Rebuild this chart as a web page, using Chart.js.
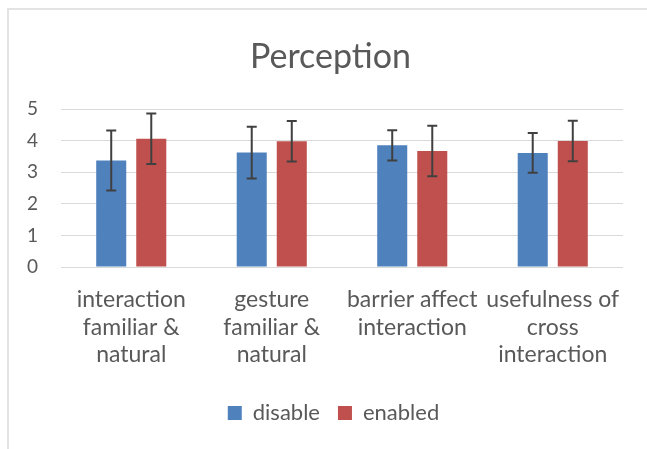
<!DOCTYPE html>
<html>
<head>
<meta charset="utf-8">
<script src="https://cdn.jsdelivr.net/npm/chart.js@4/dist/chart.umd.min.js"></script>
<style>
  html, body { margin: 0; padding: 0; background: #ffffff; }
  #wrap { position: relative; width: 647px; height: 449px; overflow: hidden; }
  #frame { position: absolute; left: 7px; top: 8px; width: 700px; height: 500px;
           border-left: 2px solid #e3e3e3; border-top: 2px solid #e3e3e3; }
  canvas { position: absolute; left: 0; top: 0; }
</style>
</head>
<body>
<div id="wrap">
  <div id="frame"></div>
  <canvas id="c" width="647" height="449"></canvas>
</div>
<script>
const categories = [
  ["interaction", "familiar &", "natural"],
  ["gesture", "familiar &", "natural"],
  ["barrier affect", "interaction"],
  ["usefulness of", "cross", "interaction"]
];
const disableValues = [3.37, 3.62, 3.85, 3.61];
const disableErrors = [0.95, 0.82, 0.48, 0.63];
const enabledValues = [4.06, 3.98, 3.67, 3.99];
const enabledErrors = [0.80, 0.64, 0.80, 0.64];
const yTicks = [0, 1, 2, 3, 4, 5];

const FONT = "Lato, 'Open Sans', sans-serif";
const TEXT = "#595959";

const errorBarPlugin = {
  id: 'errorBars',
  afterDatasetsDraw(chart) {
    const ctx = chart.ctx;
    const y = chart.scales.y;
    ctx.save();
    ctx.strokeStyle = '#404040';
    ctx.lineWidth = 2;
    chart.data.datasets.forEach((ds, di) => {
      const meta = chart.getDatasetMeta(di);
      meta.data.forEach((bar, i) => {
        const v = ds.data[i], e = ds.errors[i];
        const yTop = y.getPixelForValue(v + e);
        const yBot = y.getPixelForValue(v - e);
        const x = bar.x;
        ctx.beginPath();
        ctx.moveTo(x, yTop); ctx.lineTo(x, yBot);
        ctx.moveTo(x - 5, yTop); ctx.lineTo(x + 5, yTop);
        ctx.moveTo(x - 5, yBot); ctx.lineTo(x + 5, yBot);
        ctx.stroke();
      });
    });
    ctx.restore();
  }
};

// nudge title and legend to sit where the reference centres them
const centerShiftPlugin = {
  id: 'centerShift',
  afterLayout(chart) {
    if (chart.titleBlock) { chart.titleBlock.left += 6; chart.titleBlock.right += 6; }
    if (chart.legend) { chart.legend.left += 9; chart.legend.right += 9; }
  }
};

new Chart(document.getElementById('c'), {
  type: 'bar',
  data: {
    labels: categories,
    datasets: [
      { label: 'disable', data: disableValues, errors: disableErrors,
        backgroundColor: '#4F81BD', categoryPercentage: 0.57, barPercentage: 0.75 },
      { label: 'enabled', data: enabledValues, errors: enabledErrors,
        backgroundColor: '#C0504D', categoryPercentage: 0.57, barPercentage: 0.75 }
    ]
  },
  options: {
    responsive: false,
    animation: false,
    layout: { padding: { left: 26, right: 24, top: 0, bottom: 15 } },
    plugins: {
      title: {
        display: true, text: 'Perception', color: TEXT,
        font: { family: FONT, size: 34, weight: 'normal', lineHeight: 1.2 },
        padding: { top: 36.6, bottom: 31.6 }
      },
      legend: {
        position: 'bottom',
        labels: {
          color: TEXT, boxWidth: 14, boxHeight: 14, padding: 18,
          font: { family: FONT, size: 22 }
        }
      },
      tooltip: { enabled: false }
    },
    scales: {
      x: {
        grid: { display: false, drawTicks: false },
        border: { display: false },
        ticks: { color: TEXT, padding: 19, maxRotation: 0, autoSkip: false,
                 font: { family: FONT, size: 23, lineHeight: 1.2 } },
        afterFit(s) { s.height = 117; }
      },
      y: {
        min: 0, max: 5,
        afterBuildTicks(s) { s.ticks = yTicks.map(v => ({ value: v })); },
        grid: { color: '#d9d9d9', drawTicks: false, lineWidth: 1 },
        border: { display: false },
        ticks: { color: TEXT, padding: 23, font: { family: FONT, size: 19 } },
        afterFit(s) { s.width = 35; }
      }
    }
  },
  plugins: [errorBarPlugin, centerShiftPlugin]
});
</script>
</body>
</html>
